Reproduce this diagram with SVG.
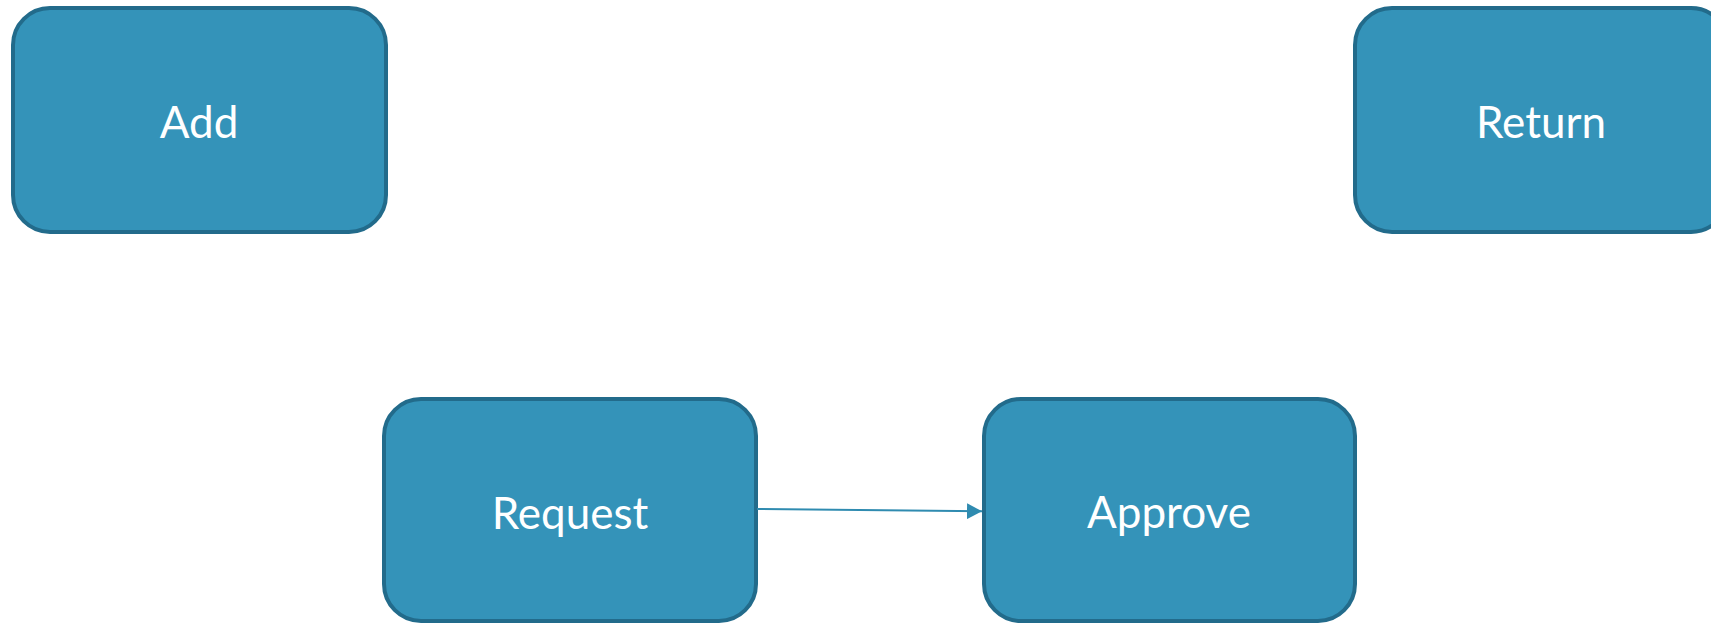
<svg xmlns="http://www.w3.org/2000/svg" width="1711" height="623" viewBox="0 0 1711 623">
<style>
.box{fill:#3493b9;stroke:#226b8b;stroke-width:4}
.lbl{font-family:Lato,"Open Sans","Liberation Sans",sans-serif;font-size:44px;fill:#ffffff;text-anchor:middle}
.edge{stroke:#2f8bb0;stroke-width:2;fill:none}
</style>
<defs>
<marker id="arr" markerWidth="16" markerHeight="16" refX="15" refY="8" orientation="auto" markerUnits="userSpaceOnUse" orient="auto">
<path d="M0,0 L15,8 L0,16 Z" fill="#2f8bb0"/>
</marker>
</defs>
<rect width="1711" height="623" fill="#ffffff"/>
<g id="node-add">
<rect class="box" x="13" y="8" width="373" height="224" rx="37" ry="37"/>
<text class="lbl" x="199" y="138">Add</text>
</g>
<g id="node-return">
<rect class="box" x="1355" y="8" width="373" height="224" rx="37" ry="37"/>
<text class="lbl" x="1541" y="138">Return</text>
</g>
<g id="node-request">
<rect class="box" x="384" y="399" width="372" height="222" rx="37" ry="37"/>
<text class="lbl" x="570" y="529">Request</text>
</g>
<g id="node-approve">
<rect class="box" x="984" y="399" width="371" height="222" rx="37" ry="37"/>
<text class="lbl" x="1169" y="528">Approve</text>
</g>
<g id="connectors">
<line class="edge" x1="757" y1="509" x2="982" y2="511.3" marker-end="url(#arr)"/>
</g>
</svg>
